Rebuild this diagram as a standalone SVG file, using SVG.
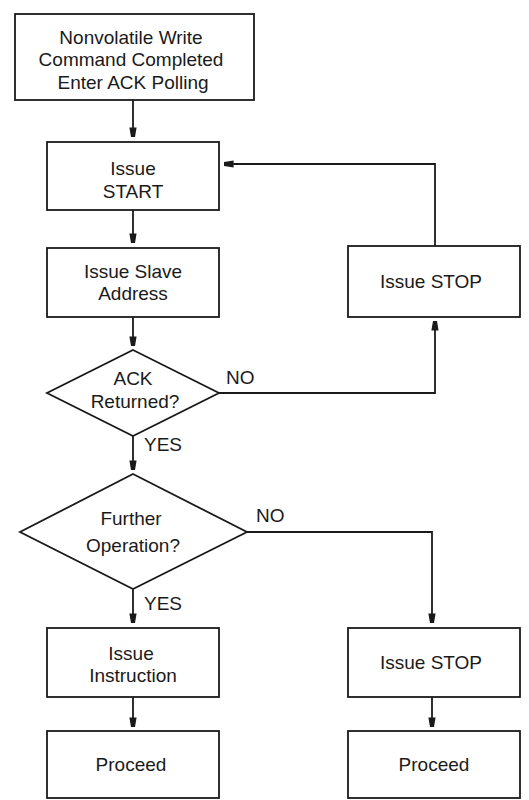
<svg xmlns="http://www.w3.org/2000/svg" width="529" height="800" viewBox="0 0 529 800">
<defs>
<style>
.box{fill:#fff;stroke:#1a1a1a;stroke-width:1.8}
.t{font-family:"Liberation Sans",Arial,sans-serif;font-size:19px;fill:#1a1a1a;text-anchor:middle;dominant-baseline:central}
.lbl{font-family:"Liberation Sans",Arial,sans-serif;font-size:19px;fill:#1a1a1a;dominant-baseline:central}
.c{fill:none;stroke:#1a1a1a;stroke-width:1.8}
</style>
<marker id="a" viewBox="0 0 12 10" refX="12" refY="5" markerWidth="11" markerHeight="8" orient="auto" markerUnits="userSpaceOnUse">
<path d="M0,0.5 L12,2.5 L12,7.5 L0,9.5 Z" fill="#1a1a1a"/>
</marker>
</defs>
<rect width="529" height="800" fill="#fff"/>
<g id="connectors">
<path class="c" d="M133,100 V137" marker-end="url(#a)"/>
<path class="c" d="M133,210 V243" marker-end="url(#a)"/>
<path class="c" d="M133,317 V346" marker-end="url(#a)"/>
<path class="c" d="M133,436 V470" marker-end="url(#a)"/>
<path class="c" d="M133,589 V623" marker-end="url(#a)"/>
<path class="c" d="M133,697 V727" marker-end="url(#a)"/>
<path class="c" d="M219,393 H435 V321" marker-end="url(#a)"/>
<path class="c" d="M435,246 V164 H224" marker-end="url(#a)"/>
<path class="c" d="M247,532 H432 V623" marker-end="url(#a)"/>
<path class="c" d="M432,697 V727" marker-end="url(#a)"/>
</g>
<g id="n-start">
<rect class="box" x="15" y="14" width="239" height="86"/>
<text class="t" x="131" y="37">Nonvolatile Write</text>
<text class="t" x="131" y="59">Command Completed</text>
<text class="t" x="133" y="82">Enter ACK Polling</text>
</g>
<g id="n-issue-start">
<rect class="box" x="47" y="142" width="172" height="68"/>
<text class="t" x="133" y="168">Issue</text>
<text class="t" x="133" y="191">START</text>
</g>
<g id="n-slave">
<rect class="box" x="47" y="248" width="172" height="69"/>
<text class="t" x="133" y="271">Issue Slave</text>
<text class="t" x="133" y="293">Address</text>
</g>
<g id="n-stop1">
<rect class="box" x="348" y="246" width="172" height="71"/>
<text class="t" x="431" y="281">Issue STOP</text>
</g>
<g id="n-ack">
<polygon class="box" points="133,350 219,393 133,436 47,393"/>
<text class="t" x="133" y="378">ACK</text>
<text class="t" x="135" y="401">Returned?</text>
</g>
<text class="lbl" x="226" y="377">NO</text>
<text class="lbl" x="144" y="444">YES</text>
<g id="n-further">
<polygon class="box" points="133,474 247,532 133,589 20,532"/>
<text class="t" x="131" y="518">Further</text>
<text class="t" x="133" y="545">Operation?</text>
</g>
<text class="lbl" x="256" y="515">NO</text>
<text class="lbl" x="144" y="603">YES</text>
<g id="n-instruction">
<rect class="box" x="47" y="628" width="172" height="69"/>
<text class="t" x="131" y="653">Issue</text>
<text class="t" x="133" y="675">Instruction</text>
</g>
<g id="n-stop2">
<rect class="box" x="348" y="628" width="172" height="69"/>
<text class="t" x="431" y="662">Issue STOP</text>
</g>
<g id="n-proceed1">
<rect class="box" x="47" y="731" width="172" height="67"/>
<text class="t" x="131" y="764">Proceed</text>
</g>
<g id="n-proceed2">
<rect class="box" x="348" y="731" width="172" height="67"/>
<text class="t" x="434" y="764">Proceed</text>
</g>
</svg>
